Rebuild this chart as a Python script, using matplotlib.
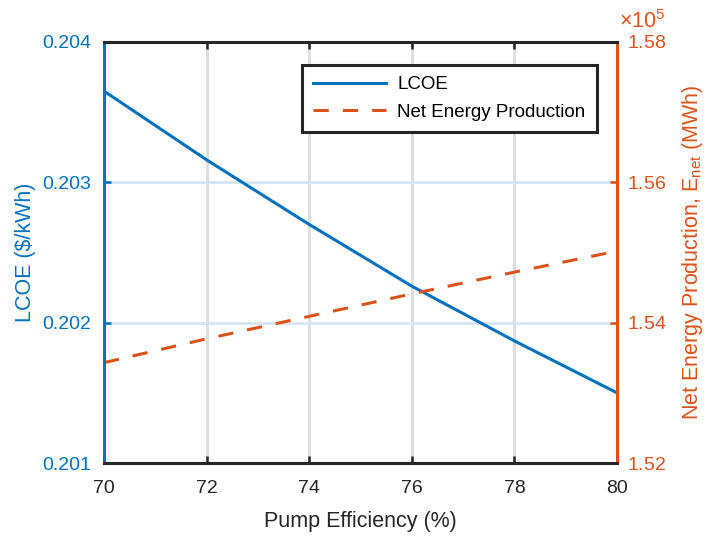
import numpy as np
import matplotlib
matplotlib.use('Agg')
import matplotlib.pyplot as plt
from matplotlib.ticker import ScalarFormatter

plt.rcParams['font.family'] = ['Liberation Sans', 'DejaVu Sans']
plt.rcParams['mathtext.fontset'] = 'custom'
plt.rcParams['mathtext.rm'] = 'Liberation Sans'
plt.rcParams['mathtext.it'] = 'Liberation Sans'

# Data
pump_eff = [70, 72, 74, 76, 78, 80]                              # %
lcoe = [0.20365, 0.20316, 0.20270, 0.20226, 0.20187, 0.20150]     # $/kWh
e_net = [153430, 153770, 154090, 154410, 154720, 155020]          # MWh

x_ticks = [70, 72, 74, 76, 78, 80]
lcoe_ticks = [0.201, 0.202, 0.203, 0.204]
enet_ticks = [152000, 154000, 156000, 158000]

BLUE = '#0072BD'
ORANGE = '#D95319'
DARK = '#262626'

fig = plt.figure(figsize=(7.1, 5.38), dpi=100)
ax = fig.add_axes([0.1465, 0.1394, 0.7225, 0.7826])
ax2 = ax.twinx()

# grid: vertical gray, horizontal tinted like the left axis
for xv in x_ticks[1:-1]:
    ax.axvline(xv, color='#dcdcdc', lw=2.0, zorder=0)
for yv in lcoe_ticks[1:-1]:
    ax.axhline(yv, color='#d5e5f3', lw=2.0, zorder=0)

l1, = ax.plot(pump_eff, lcoe, color=BLUE, lw=2.2, label='LCOE')
l2, = ax2.plot(pump_eff, e_net, color=ORANGE, lw=2.2, dashes=(5, 4.6),
               label='Net Energy Production')

ax.set_xlim(70, 80)
ax.set_ylim(0.201, 0.204)
ax2.set_ylim(152000, 158000)
ax.set_xticks(x_ticks)
ax.set_yticks(lcoe_ticks)
ax.set_yticklabels(['%.3f' % v for v in lcoe_ticks])
ax2.set_yticks(enet_ticks)

# scaled tick labels (1.52 ... 1.58), exponent drawn separately
fmt = ScalarFormatter(useMathText=True)
fmt.set_powerlimits((0, 0))
ax2.yaxis.set_major_formatter(fmt)
ax2.yaxis.get_offset_text().set_visible(False)
ax2.annotate('×10$^{5}$', xy=(1, 1), xycoords='axes fraction',
             xytext=(1.5, 10), textcoords='offset points',
             ha='left', va='baseline', fontsize=15.5, color=ORANGE)

fs = 14
lfs = 15.5
ax.tick_params(axis='x', direction='in', top=True, length=5, width=1.8,
               labelsize=fs, colors=DARK, pad=12)
ax.tick_params(axis='y', direction='in', length=5, width=1.8,
               labelsize=fs, colors=BLUE, pad=9)
ax2.tick_params(axis='y', direction='in', length=5, width=1.8,
                labelsize=fs, colors=ORANGE, pad=7)

for sp in ['top', 'bottom']:
    ax2.spines[sp].set_color(DARK)
    ax2.spines[sp].set_linewidth(2.2)
ax2.spines['left'].set_color(BLUE)
ax2.spines['left'].set_linewidth(2.2)
ax2.spines['right'].set_color(ORANGE)
ax2.spines['right'].set_linewidth(2.2)

ax.set_xlabel('Pump Efficiency (%)', fontsize=lfs, color=DARK, labelpad=10)
ax.set_ylabel('LCOE ($/kWh)', fontsize=lfs, color=BLUE, labelpad=5)
ax2.set_ylabel(r'Net Energy Production, E$_{\mathrm{net}}$ (MWh)',
               fontsize=lfs, color=ORANGE, labelpad=10)

leg = ax2.legend(handles=[l1, l2], loc='upper right',
                 bbox_to_anchor=(0.961, 0.945), borderaxespad=0,
                 fontsize=13.5, frameon=True, fancybox=False,
                 handlelength=3.9, handletextpad=0.6,
                 borderpad=0.6, labelspacing=0.55, framealpha=1)
leg.get_frame().set_edgecolor(DARK)
leg.get_frame().set_linewidth(2.2)

fig.savefig('out.png', dpi=100)
